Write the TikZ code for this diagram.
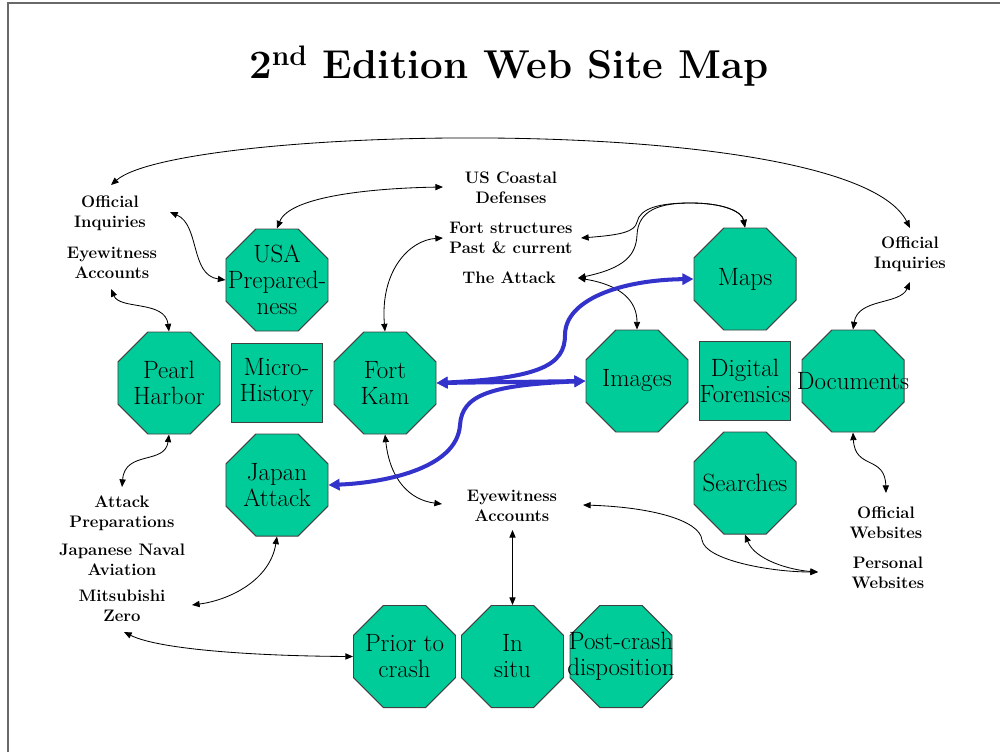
\documentclass[tikz,border=0pt]{standalone}
\usetikzlibrary{shapes.geometric,arrows.meta,calc}
\definecolor{octgreen}{RGB}{0,204,153}
\definecolor{arrblue}{RGB}{51,51,204}
\definecolor{framegray}{RGB}{105,105,105}
\begin{document}
\begin{tikzpicture}[x=0.72pt,y=-0.72pt,
  oct/.style={regular polygon, regular polygon sides=8, minimum size=79.5pt, inner sep=0pt,
    fill=octgreen, draw=black!75, line width=0.7pt},
  rbox/.style={rectangle, minimum width=65.5pt, minimum height=56.9pt, inner sep=0pt,
    fill=octgreen, draw=black!75, line width=0.7pt},
  otext/.style={align=center, inner sep=0pt, font=\fontsize{18}{18.7}\selectfont},
  lab/.style={align=center, inner sep=0pt, font=\bfseries\fontsize{12}{14.4}\selectfont},
  conn/.style={line width=0.6pt, <->, >={Triangle[length=5.5pt,width=4.5pt]}},
  bconn/.style={draw=arrblue, line width=2.9pt, <->, >={Triangle[length=8pt,width=8pt]}}]
\useasboundingbox (0,0) rectangle (1000,752);
% frame
\draw[framegray, line width=1.1pt] (8,752) -- (8,3) -- (1000,3);
% title
\node[font=\bfseries\fontsize{29}{34}\selectfont] (title) at (509,66) {2\textsuperscript{nd} Edition Web Site Map};

% octagons
\node[oct] (usa) at (277,280) {};   \node[otext] (usa-t) at (usa) {USA\\Prepared-\\ness};
\node[oct] (ph) at (169,383) {};    \node[otext] (ph-t) at (ph) {Pearl\\Harbor};
\node[rbox] (mh) at (276.5,382.5) {}; \node[otext] (mh-t) at (mh) {Micro-\\History};
\node[oct] (fk) at (385,383) {};    \node[otext] (fk-t) at (fk) {Fort\\Kam};
\node[oct] (ja) at (277,485) {};    \node[otext] (ja-t) at (ja) {Japan\\Attack};
\node[oct] (im) at (637,381) {};    \node[otext] (im-t) at (im) {Images};
\node[rbox] (df) at (745,380.5) {}; \node[otext] (df-t) at (df) {Digital\\Forensics};
\node[oct] (maps) at (745,279) {};  \node[otext] (maps-t) at (maps) {Maps};
\node[oct] (srch) at (745,483) {};  \node[otext] (srch-t) at (srch) {Searches};
\node[oct] (docs) at (853,381) {};  \node[otext] (docs-t) at (docs) {Documents};
\node[oct] (prior) at (404.5,656.5) {};  \node[otext] (prior-t) at (prior) {Prior to\\crash};
\node[oct] (insitu) at (512.5,656.5) {}; \node[otext] (insitu-t) at (insitu) {In\\situ};
\node[oct] (post) at (621,656.5) {};     \node[otext] (post-t) at (post) {Post-crash\\disposition};

% labels
\node[lab] (oiL) at (110,213) {Official\\Inquiries};
\node[lab] (ewL) at (112,263) {Eyewitness\\Accounts};
\node[lab] (cd) at (511,188) {US Coastal\\Defenses};
\node[lab] (fs) at (511,238) {Fort structures\\Past \& current};
\node[lab] (ta) at (509,278) {The Attack};
\node[lab] (oiR) at (910,254) {Official\\Inquiries};
\node[lab] (ap) at (122,513) {Attack\\Preparations};
\node[lab] (jn) at (122,560) {Japanese Naval\\Aviation};
\node[lab] (mz) at (122,606) {Mitsubishi\\Zero};
\node[lab] (ewC) at (512,506) {Eyewitness\\Accounts};
\node[lab] (ow) at (886,523) {Official\\Websites};
\node[lab] (pw) at (888,573) {Personal\\Websites};

% black connectors
\draw[conn] ($(oiL)+(1,-28)$) .. controls (180,125) and (850,110) .. ($(oiR)+(0,-26)$);
\draw[conn] (usa.north) .. controls (290,195) and (380,188) .. ($(cd)+(-68,-1)$);
\draw[conn] ($(oiL)+(60,-1)$) .. controls (200,225) and (190,275) .. (usa.west);
\draw[conn] ($(ewL)+(-1,26)$) .. controls (120,310) and (165,300) .. (ph.north);
\draw[conn] (ph.south) .. controls (165,465) and (125,450) .. ($(ap)+(0,-26)$);
\draw[conn] (ja.south) .. controls (270,580) and (230,600) .. ($(mz)+(70,-1)$);
\draw[conn] ($(mz)+(2,26)$) .. controls (160,650) and (260,656) .. (prior.west);
\draw[conn] (fk.north) .. controls (380,270) and (410,240) .. ($(fs)+(-68,0)$);
\draw[conn] (fk.south) .. controls (390,480) and (410,500) .. ($(ewC)+(-70,-2)$);
\draw[conn] ($(ewC)+(0.5,24)$) -- (insitu.north);
\draw[conn] ($(fs)+(70,0)$) .. controls (620,235) and (635,232) .. (637,222)
   .. controls (640,208) and (660,203) .. (690,203) .. controls (725,203) and (742,212) .. (maps.north);
\draw[conn] ($(ta)+(69,0)$) .. controls (625,268) and (636,255) .. (637,235)
   .. controls (638,210) and (660,203) .. (690,203) .. controls (725,203) and (742,212) .. (maps.north);
\draw[conn] ($(ta)+(69,0)$) .. controls (620,285) and (637,300) .. (im.north);
\draw[conn] ($(oiR)+(0,28)$) .. controls (900,305) and (858,298) .. (docs.north);
\draw[conn] (docs.south) .. controls (855,470) and (885,455) .. ($(ow)+(0,-30)$);
\draw[conn] (srch.south) .. controls (755,560) and (790,570) .. ($(pw)+(-70,-1)$);
\draw[conn] ($(ewC)+(71,-1)$) .. controls (650,507) and (700,520) .. (702,540)
   .. controls (705,560) and (770,572) .. ($(pw)+(-70,-1)$);

% blue connectors
\draw[bconn] (fk.east) -- (im.west);
\draw[bconn] (fk.east) .. controls (540,378) and (565,365) .. (565,335)
   .. controls (565,300) and (620,280) .. (maps.west);
\draw[bconn] (im.west) .. controls (490,385) and (462,395) .. (460,425)
   .. controls (457,470) and (380,483) .. (ja.east);
\end{tikzpicture}
\end{document}
